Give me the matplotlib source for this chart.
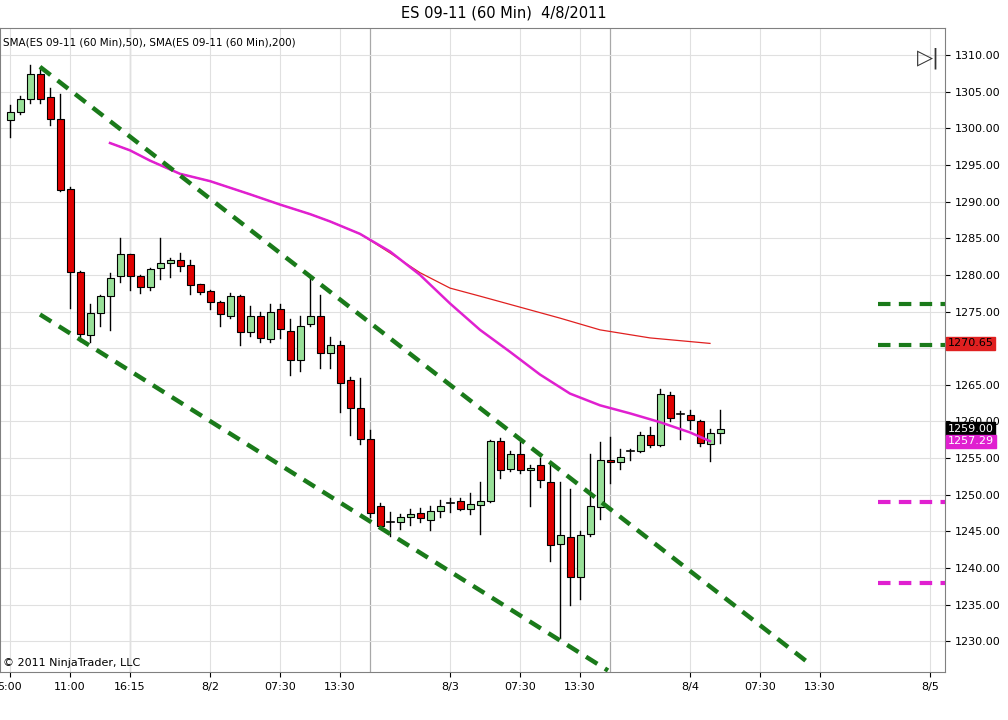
import matplotlib
matplotlib.use("Agg")
import matplotlib.pyplot as plt
import numpy as np

opens  = [1301.2,1302.2,1304.0,1307.4,1304.3,1301.3,1291.7,1280.4,1271.8,1274.8,1277.1,1279.8,1282.8,1279.8,1278.3,1281.0,1281.6,1282.0,1281.3,1278.7,
          1277.8,1276.3,1274.4,1277.1,1272.2,1274.4,1271.3,1275.3,1272.3,1268.4,1273.3,1274.4,1269.3,1270.5,1265.6,1261.8,1257.6,1248.4,1246.3,1246.3,
          1246.9,1247.5,1246.6,1247.8,1248.8,1249.1,1248.1,1248.6,1249.1,1257.3,1253.5,1255.6,1253.4,1254.0,1251.8,1243.3,1244.2,1238.8,1244.6,1248.3,
          1254.8,1254.4,1256.0,1256.0,1258.1,1256.8,1263.6,1261.0,1260.9,1260.1,1256.9,1258.4]
closes = [1302.2,1304.0,1307.4,1304.0,1301.3,1291.6,1280.4,1272.0,1274.8,1277.1,1279.6,1282.8,1279.8,1278.3,1280.8,1281.6,1282.0,1281.2,1278.6,1277.7,
          1276.3,1274.7,1277.1,1272.2,1274.4,1271.4,1275.0,1272.6,1268.4,1273.0,1274.4,1269.3,1270.5,1265.3,1261.8,1257.6,1247.5,1245.7,1246.3,1247.0,
          1247.3,1246.8,1247.8,1248.5,1248.8,1248.1,1248.7,1249.1,1257.3,1253.4,1255.6,1253.4,1253.7,1252.0,1243.1,1244.5,1238.8,1244.5,1248.4,1254.8,
          1254.4,1255.1,1256.0,1258.1,1256.8,1263.8,1260.5,1261.0,1260.2,1257.1,1258.4,1259.0]
highs  = [1303.2,1304.4,1308.7,1308.4,1305.5,1304.7,1292.0,1280.6,1276.0,1277.3,1280.3,1285.0,1282.9,1280.0,1281.0,1285.0,1282.3,1283.0,1282.0,1278.8,
          1278.0,1276.4,1277.5,1277.2,1275.8,1275.0,1276.0,1276.0,1274.0,1274.4,1279.7,1277.2,1271.5,1271.0,1266.1,1265.9,1258.8,1248.8,1247.6,1247.4,
          1248.0,1248.2,1248.5,1249.3,1249.6,1249.5,1250.2,1251.7,1257.5,1257.8,1256.0,1257.2,1254.0,1255.0,1254.0,1251.8,1250.8,1245.0,1255.6,1257.2,
          1257.9,1256.3,1256.3,1258.5,1259.3,1264.4,1264.0,1261.4,1261.5,1260.2,1258.9,1261.6]
lows   = [1298.8,1301.9,1303.5,1303.5,1300.4,1291.4,1275.5,1271.0,1270.9,1273.0,1272.5,1279.0,1278.0,1277.5,1278.0,1279.5,1279.7,1280.5,1277.4,1277.4,
          1275.4,1273.0,1274.1,1270.5,1271.6,1270.9,1270.9,1271.4,1266.4,1266.9,1273.0,1267.3,1267.3,1261.3,1258.1,1256.9,1247.0,1245.5,1244.3,1245.3,
          1245.9,1246.3,1245.2,1247.0,1247.6,1247.9,1247.3,1244.6,1249.0,1252.3,1253.3,1253.0,1248.4,1251.0,1241.0,1230.5,1235.0,1235.7,1244.4,1246.7,
          1251.6,1253.5,1254.8,1255.8,1256.5,1256.6,1260.0,1257.6,1259.0,1256.7,1254.6,1257.0]

sma50_x = [10,12,14,17,20,22,24,27,30,32,35,38,41,44,47,50,53,56,59,62,65,68,70]
sma50_y = [1298.0,1297.0,1295.6,1293.8,1292.8,1291.9,1291.0,1289.6,1288.3,1287.3,1285.6,1283.2,1280.0,1276.1,1272.5,1269.5,1266.4,1263.8,1262.2,1261.1,1259.9,1258.5,1257.3]
sma200_x = [10,12,14,17,20,22,24,27,30,32,35,38,41,44,47,51,55,59,64,70]
sma200_y = [1298.0,1297.0,1295.6,1293.8,1292.8,1291.9,1291.0,1289.6,1288.3,1287.3,1285.6,1283.0,1280.3,1278.2,1277.1,1275.6,1274.1,1272.5,1271.4,1270.65]

upper_tl = ([3, 79.8], [1308.4, 1227.1])
lower_tl = ([3, 59.8], [1274.6, 1226.0])
right_green = [1276.0, 1270.5]
right_magenta = [1249.0, 1238.0]

tick_pos = [0, 6, 12, 20, 27, 33, 44, 51, 57, 68, 75, 81, 92]
tick_lab = ["5:00", "11:00", "16:15", "8/2", "07:30", "13:30", "8/3", "07:30", "13:30", "8/4", "07:30", "13:30", "8/5"]
session_lines = [12, 36, 60]
ytick_vals = [1230, 1235, 1240, 1245, 1250, 1255, 1260, 1265, 1275, 1280, 1285, 1290, 1295, 1300, 1305, 1310]

fig = plt.figure(figsize=(10.08, 7.2), dpi=100)
ax = fig.add_axes([0, 48/720, 945/1008, 644/720])
ax.set_xlim(-1, 93.5)
ax.set_ylim(1225.8, 1313.7)

ax.set_yticks(ytick_vals)
ax.yaxis.tick_right()
ax.set_yticklabels([f"{v:.2f}" for v in ytick_vals], fontsize=8)
ax.set_xticks(tick_pos)
ax.set_xticklabels(tick_lab, fontsize=8)
ax.grid(True, color="#e0e0e0", linewidth=0.8)
ax.axhline(1270, color="#e0e0e0", linewidth=0.8, zorder=0)
ax.set_axisbelow(True)
for s in session_lines:
    ax.axvline(s, color="#a8a8a8", linewidth=0.9, zorder=0.5)
for sp in ax.spines.values():
    sp.set_color("#808080")

for i, (o, c, h, l) in enumerate(zip(opens, closes, highs, lows)):
    col = "#98e098" if c >= o else "#e00000"
    ax.plot([i, i], [l, h], color="black", linewidth=1, zorder=2)
    b = min(o, c); hgt = abs(c - o)
    if hgt < 0.15:
        ax.plot([i - 0.35, i + 0.35], [o, o], color="black", linewidth=1.2, zorder=3)
    else:
        ax.add_patch(plt.Rectangle((i - 0.35, b), 0.7, hgt, facecolor=col, edgecolor="black", linewidth=0.8, zorder=3))

ax.plot(sma200_x, sma200_y, color="#e02020", linewidth=0.9, zorder=4)
ax.plot(sma50_x, sma50_y, color="#e020d0", linewidth=1.8, zorder=4)

ax.plot(*upper_tl, color="#1a7a1a", linewidth=3.2, linestyle=(0, (3, 2)), zorder=5)
ax.plot(*lower_tl, color="#1a7a1a", linewidth=3.2, linestyle=(0, (3, 2)), zorder=5)
for v in right_green:
    ax.plot([86.8, 93.5], [v, v], color="#1a7a1a", linewidth=3, linestyle=(0, (3, 2)), clip_on=False)
for v in right_magenta:
    ax.plot([86.8, 93.5], [v, v], color="#e020d0", linewidth=3, linestyle=(0, (3, 2)), clip_on=False)

def price_box(v, fc, tc):
    ax.annotate(f"{v:.2f}", xy=(1.0, v), xycoords=("axes fraction", "data"), xytext=(2, 0),
                textcoords="offset points", fontsize=8, color=tc, va="center", ha="left",
                bbox=dict(boxstyle="square,pad=0.15", fc=fc, ec=fc), zorder=10)
price_box(1270.65, "#e02020", "black")
price_box(1259.00, "black", "white")
price_box(1257.29, "#e020d0", "white")

fig.text(0.5, 1 - 13/720, "ES 09-11 (60 Min)  4/8/2011", ha="center", va="center", fontsize=10.5)
ax.text(0.003, 0.985, "SMA(ES 09-11 (60 Min),50), SMA(ES 09-11 (60 Min),200)", transform=ax.transAxes,
        fontsize=7.5, va="top", ha="left")
ax.text(0.003, 0.006, "© 2011 NinjaTrader, LLC", transform=ax.transAxes, fontsize=8, va="bottom", ha="left")
ax.text(0.995, 0.97, "▷|", transform=ax.transAxes, fontsize=15, va="top", ha="right", color="#333333")

fig.savefig("out.png", dpi=100, facecolor="white")
